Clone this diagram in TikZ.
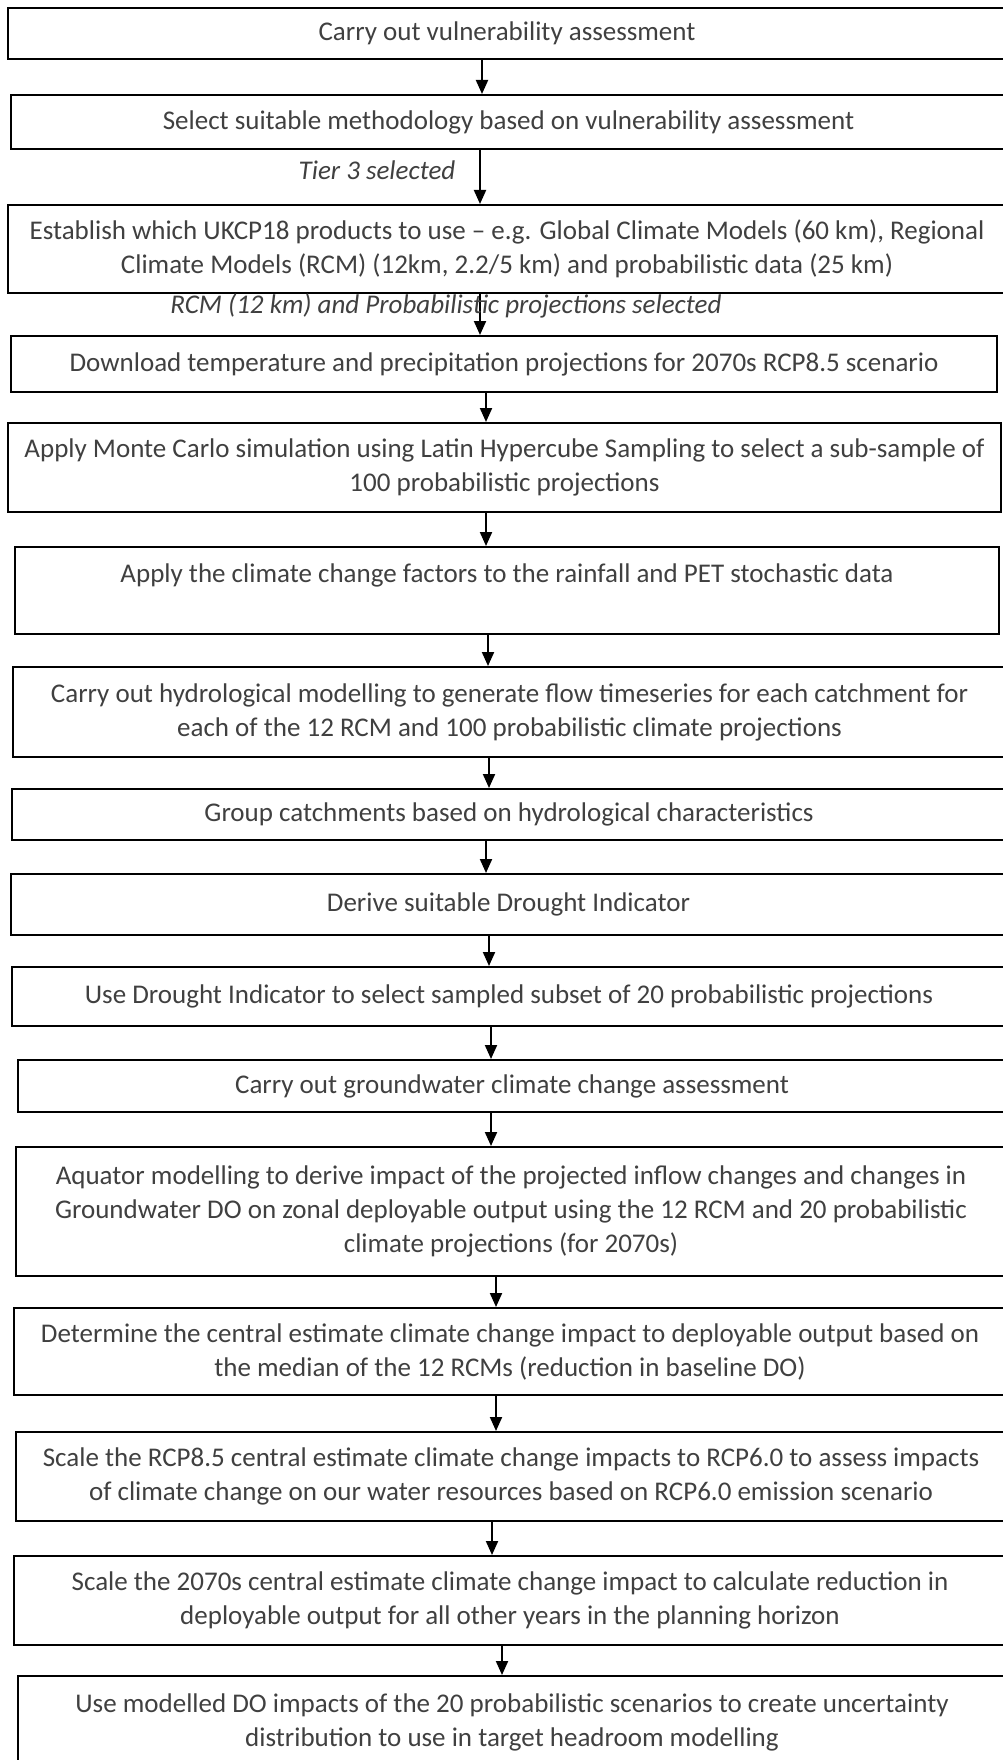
\documentclass[tikz,border=0pt]{standalone}
\usepackage{fontspec}
\setmainfont{Carlito}
\usetikzlibrary{arrows.meta}
\definecolor{txt}{HTML}{404040}
\newcommand{\stepnode}[6]{\node[stepbox, minimum width={(#4-#2)*0.5pt}, minimum height={(#5-#3)*0.5pt}] (#1) at ({(#2+#4)/2},{(#3+#5)/2}) {#6};}
\begin{document}
\begin{tikzpicture}[x=0.5pt,y=-0.5pt,
  stepbox/.style={draw=black, line width=1pt, inner sep=0pt, align=center, text=txt, font=\fontsize{13.5pt}{17pt}\selectfont},
  lbl/.style={inner sep=0pt, text=txt, font=\fontsize{13.5pt}{17pt}\selectfont\itshape},
  arr/.style={line width=1pt, -{Triangle[length=7pt,width=6pt]}}
]
\useasboundingbox (0,0) rectangle (1002,1760);
\fill[white] (0,0) rectangle (1002,1760);

\stepnode{b1}{8}{8}{1006}{59}{Carry out vulnerability assessment}
\stepnode{b2}{11}{95}{1006}{149}{Select suitable methodology based on vulnerability assessment}
\stepnode{b3}{8}{205}{1006}{293}{Establish which UKCP18 products to use – e.g. Global Climate Models (60 km), Regional\\Climate Models (RCM) (12km, 2.2/5 km) and probabilistic data (25 km)}
\stepnode{b4}{11}{336}{997}{392}{Download temperature and precipitation projections for 2070s RCP8.5 scenario}
\stepnode{b5}{8}{423}{1001}{512}{Apply Monte Carlo simulation using Latin Hypercube Sampling to select a sub-sample of\\100 probabilistic projections}
\stepnode{b6}{15}{547}{999}{634}{Apply the climate change factors to the rainfall and PET stochastic data\\\mbox{}}
\stepnode{b7}{13}{667}{1006}{757}{Carry out hydrological modelling to generate flow timeseries for each catchment for\\each of the 12 RCM and 100 probabilistic climate projections}
\stepnode{b8}{12}{789}{1006}{840}{Group catchments based on hydrological characteristics}
\stepnode{b9}{11}{874}{1006}{935}{Derive suitable Drought Indicator}
\stepnode{b10}{12}{967}{1006}{1026}{Use Drought Indicator to select sampled subset of 20 probabilistic projections}
\stepnode{b11}{18}{1060}{1006}{1112}{Carry out groundwater climate change assessment}
\stepnode{b12}{16}{1147}{1006}{1276}{Aquator modelling to derive impact of the projected inflow changes and changes in\\Groundwater DO on zonal deployable output using the 12 RCM and 20 probabilistic\\climate projections (for 2070s)}
\stepnode{b13}{14}{1308}{1006}{1395}{Determine the central estimate climate change impact to deployable output based on\\the median of the 12 RCMs (reduction in baseline DO)}
\stepnode{b14}{16}{1432}{1006}{1521}{Scale the RCP8.5 central estimate climate change impacts to RCP6.0 to assess impacts\\of climate change on our water resources based on RCP6.0 emission scenario}
\stepnode{b15}{14}{1556}{1006}{1645}{Scale the 2070s central estimate climate change impact to calculate reduction in\\deployable output for all other years in the planning horizon}
\stepnode{b16}{18}{1676}{1006}{1768}{Use modelled DO impacts of the 20 probabilistic scenarios to create uncertainty\\distribution to use in target headroom modelling}

\coordinate (x1) at (482,0);
\coordinate (x2) at (480,0);
\coordinate (x3) at (480,0);
\coordinate (x4) at (486,0);
\coordinate (x5) at (486,0);
\coordinate (x6) at (488,0);
\coordinate (x7) at (489,0);
\coordinate (x8) at (486,0);
\coordinate (x9) at (489,0);
\coordinate (x10) at (491,0);
\coordinate (x11) at (491,0);
\coordinate (x12) at (496,0);
\coordinate (x13) at (496,0);
\coordinate (x14) at (492,0);
\coordinate (x15) at (502,0);

\draw[arr] (b1.south -| x1) -- (b2.north -| x1);
\draw[arr] (b2.south -| x2) -- (b3.north -| x2);
\draw[arr] (b3.south -| x3) -- (b4.north -| x3);
\draw[arr] (b4.south -| x4) -- (b5.north -| x4);
\draw[arr] (b5.south -| x5) -- (b6.north -| x5);
\draw[arr] (b6.south -| x6) -- (b7.north -| x6);
\draw[arr] (b7.south -| x7) -- (b8.north -| x7);
\draw[arr] (b8.south -| x8) -- (b9.north -| x8);
\draw[arr] (b9.south -| x9) -- (b10.north -| x9);
\draw[arr] (b10.south -| x10) -- (b11.north -| x10);
\draw[arr] (b11.south -| x11) -- (b12.north -| x11);
\draw[arr] (b12.south -| x12) -- (b13.north -| x12);
\draw[arr] (b13.south -| x13) -- (b14.north -| x13);
\draw[arr] (b14.south -| x14) -- (b15.north -| x14);
\draw[arr] (b15.south -| x15) -- (b16.north -| x15);

\node[lbl] (l1) at (377,170) {Tier 3 selected};
\node[lbl] (l2) at (446,306) {RCM (12 km) and Probabilistic projections selected};
\end{tikzpicture}
\end{document}
